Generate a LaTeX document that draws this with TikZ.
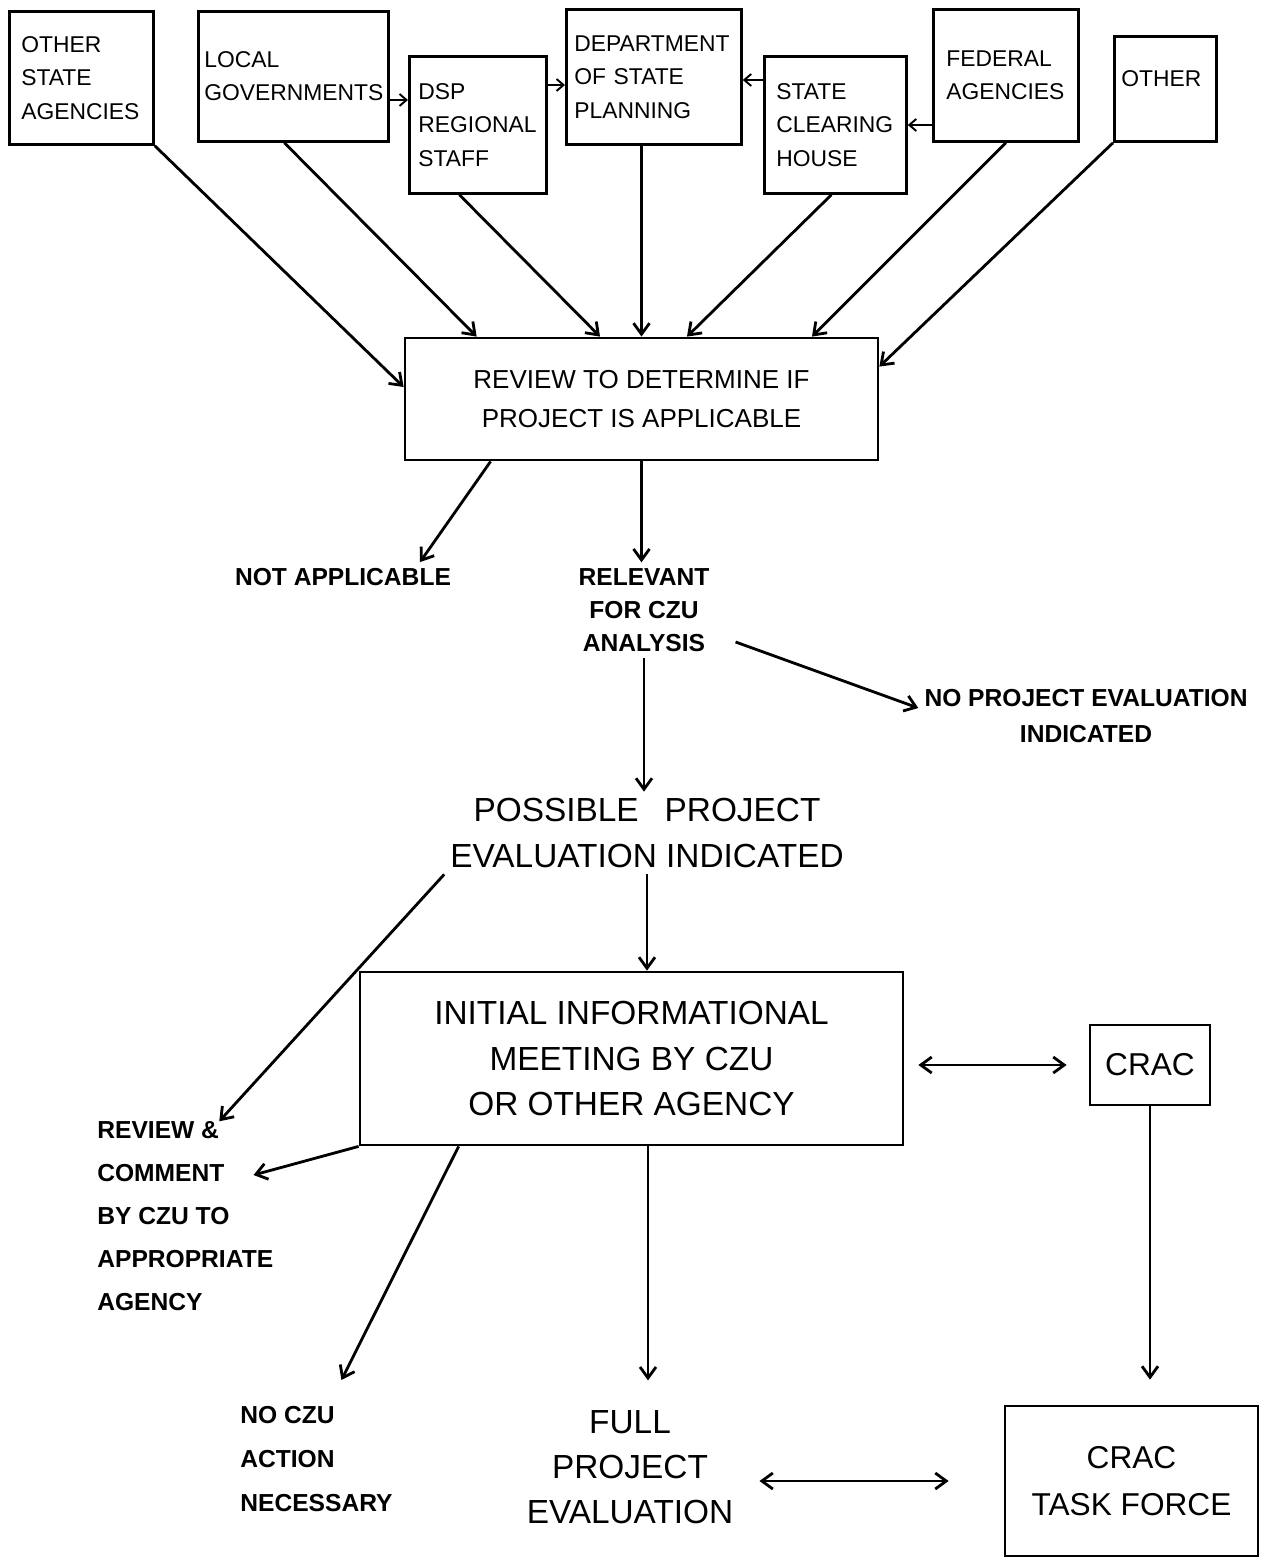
\documentclass[tikz,border=0pt]{standalone}
\usepackage{fontspec}
\setmainfont{Liberation Sans}
\usetikzlibrary{arrows.meta}
\tikzset{
  agency/.style={draw, line width=1.6pt, align=left, anchor=north west, inner ysep=0pt, font=\fontsize{13}{19}\selectfont},
  stage/.style={draw, line width=1.6pt, align=center},
  note/.style={align=center, font=\fontsize{14}{19}\selectfont\bfseries},
  flow/.style={line width=1.6pt, -{Straight Barb[length=2.2mm,width=3.2mm]}},
  twoway/.style={line width=1.6pt, {Straight Barb[length=2.2mm,width=3.2mm]}-{Straight Barb[length=2.2mm,width=3.2mm]}},
  small/.style={line width=1.1pt, -{Straight Barb[length=1.4mm,width=2.4mm]}}
}
\begin{document}
\begin{tikzpicture}[x=0.02cm, y=-0.02cm]
\useasboundingbox (0,0) rectangle (1262,1557);
\node[agency, minimum width=2.88cm, minimum height=2.66cm, inner xsep=0.24cm, text width=2.4cm] (osa) at (8,10) {OTHER\\STATE\\AGENCIES};
\node[agency, minimum width=3.8cm, minimum height=2.6cm, inner xsep=0.12cm, text width=3.56cm] (local) at (197,10) {LOCAL\\GOVERNMENTS};
\node[agency, minimum width=2.74cm, minimum height=2.74cm, inner xsep=0.18cm, text width=2.38cm] (dsp) at (408,55) {DSP\\REGIONAL\\STAFF};
\node[agency, minimum width=3.5cm, minimum height=2.7cm, inner xsep=0.16cm, text width=3.18cm] (dept) at (565,8) {DEPARTMENT\\OF STATE\\PLANNING};
\node[agency, minimum width=2.84cm, minimum height=2.74cm, inner xsep=0.24cm, text width=2.36cm] (sch) at (763,55) {STATE\\CLEARING\\HOUSE};
\node[agency, minimum width=2.9cm, minimum height=2.64cm, inner xsep=0.26cm, text width=2.38cm] (fed) at (932,8) {FEDERAL\\AGENCIES};
\node[agency, minimum width=2.04cm, minimum height=2.1cm, inner xsep=0.14cm, text width=1.76cm, text depth=0.4cm] (oth) at (1113,35) {OTHER};

\node[stage, minimum width=9.46cm, minimum height=2.44cm, font=\fontsize{14.8}{22.7}\selectfont] (review) at (641.5,399) {REVIEW TO DETERMINE IF\\PROJECT IS APPLICABLE};
\node[note] (na) at (343,577) {NOT APPLICABLE};
\node[note, font=\fontsize{14}{18.7}\selectfont\bfseries] (rel) at (644,610) {RELEVANT\\FOR CZU\\ANALYSIS};
\node[note, font=\fontsize{14}{21}\selectfont\bfseries] (nope) at (1086,716) {NO PROJECT EVALUATION\\INDICATED};
\node[align=center, font=\fontsize{19}{26.6}\selectfont] (poss) at (647,833) {POSSIBLE\hspace{0.5em} PROJECT\\EVALUATION INDICATED};
\node[stage, minimum width=10.86cm, minimum height=3.46cm, font=\fontsize{19}{26}\selectfont] (init) at (631.5,1058.5) {INITIAL INFORMATIONAL\\MEETING BY CZU\\OR OTHER AGENCY};
\node[stage, minimum width=2.4cm, minimum height=1.6cm, font=\fontsize{18}{24}\selectfont] (crac) at (1150,1065) {CRAC};
\node[stage, minimum width=5.06cm, minimum height=3cm, font=\fontsize{18}{26.6}\selectfont] (ctf) at (1131.5,1481) {CRAC\\TASK FORCE};
\node[note, align=left, anchor=west, inner sep=0pt, font=\fontsize{14}{24.4}\selectfont\bfseries] (rc) at (97,1216) {REVIEW \&\\COMMENT\\BY CZU TO\\APPROPRIATE\\AGENCY};
\node[note, align=left, anchor=west, inner sep=0pt, font=\fontsize{14}{25}\selectfont\bfseries] (nocz) at (240,1459) {NO CZU\\ACTION\\NECESSARY};
\node[align=center, font=\fontsize{19}{25.5}\selectfont] (full) at (630,1467) {FULL\\PROJECT\\EVALUATION};

\coordinate (lg) at ([yshift=-1.8cm]local.north east);
\coordinate (ds) at ([yshift=-0.6cm]dsp.north east);
\coordinate (sc) at ([yshift=-0.5cm]sch.north west);
\coordinate (fa) at ([yshift=-2.34cm]fed.north west);
\draw[small] (lg) -- (lg -| dsp.west);
\draw[small] (ds) -- (ds -| dept.west);
\draw[small] (sc) -- (sc -| dept.east);
\draw[small] (fa) -- (fa -| sch.east);

\draw[flow] (osa.south east) -- ([yshift=0.24cm]review.west);
\draw[flow] ([xshift=-0.18cm]local.south) -- ([xshift=1.46cm]review.north west);
\draw[flow] ([xshift=-0.37cm]dsp.south) -- ([xshift=-0.83cm]review.north);
\draw[flow] (review.north |- dept.south) -- (review.north);
\draw[flow] ([xshift=-0.08cm]sch.south) -- ([xshift=0.91cm]review.north);
\draw[flow] (fed.south) -- ([xshift=3.41cm]review.north);
\draw[flow] (oth.south west) -- ([yshift=-0.6cm]review.north east);

\draw[flow] ([xshift=1.74cm]review.south west) -- ([xshift=1.54cm]na.north);
\draw[flow] (review.south) -- (review.south |- rel.north);
\draw[flow] ([xshift=0.4cm,yshift=-0.64cm]rel.east) -- ([yshift=0.16cm]nope.west);
\draw[flow] (rel.south) -- (rel.south |- poss.north);
\draw[flow] (poss.south west) -- ([xshift=0.68cm]rc.north);
\draw[flow] (poss.south) -- (poss.south |- init.north);
\draw[twoway, shorten <=0.28cm, shorten >=0.44cm] (init.east |- crac.west) -- (crac.west);
\draw[flow, shorten >=0.5cm] (crac.south) -- (crac.south |- ctf.north);
\draw[flow] (init.south west) -- ([xshift=-0.4cm,yshift=0.82cm]rc.east);
\draw[flow] ([xshift=2cm]init.south west) -- ([xshift=0.5cm,yshift=0.52cm]nocz.north);
\draw[flow, shorten >=0.48cm] ([xshift=0.33cm]init.south) -- ([xshift=0.33cm]init.south |- full.north);
\draw[twoway, shorten <=0.4cm, shorten >=1.1cm] (full.east |- ctf.west) -- (ctf.west);
\end{tikzpicture}
\end{document}
